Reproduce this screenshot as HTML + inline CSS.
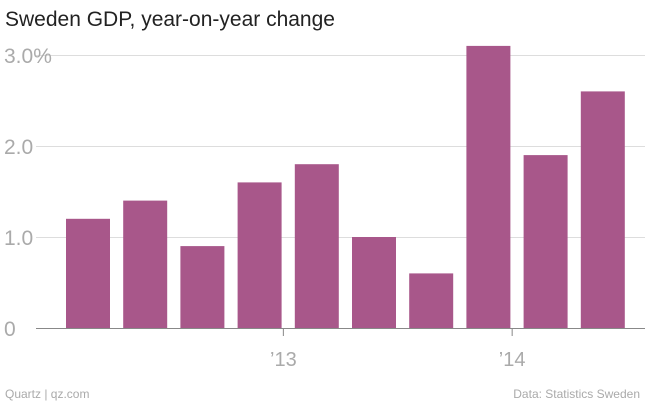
<!DOCTYPE html>
<html><head><meta charset="utf-8"><style>
body{margin:0;background:#fff;width:645px;height:403px;overflow:hidden;font-family:"Liberation Sans",sans-serif}
</style></head><body>
<svg width="645" height="403">
<text x="5" y="26" font-size="21" fill="#222">Sweden GDP, year-on-year change</text>
<g id="grid"></g>
<g id="bars"></g>
<line x1="36" y1="328.5" x2="645" y2="328.5" stroke="#888" stroke-width="1"/>
<g id="xlab"></g>
<text x="5" y="398" font-size="12" fill="#aaa">Quartz | qz.com</text>
<text x="640" y="398" font-size="12" fill="#aaa" text-anchor="end">Data: Statistics Sweden</text>
</svg>
<script>
const values=[1.2,1.4,0.9,1.6,1.8,1.0,0.6,3.1,1.9,2.6];
const yTicks=[0,1,2,3];
const yTickLabels=["0","1.0","2.0","3.0%"];
const xLabels=["’13","’14"];
const xLabelIdx=[3.8,7.8];
const NS="http://www.w3.org/2000/svg";
const y=v=>328-v*91;
const x=i=>66+i*57.2;
const g=document.getElementById('grid'),b=document.getElementById('bars'),xl=document.getElementById('xlab');
yTicks.forEach((t,i)=>{
 if(t>0){const l=document.createElementNS(NS,'line');
 l.setAttribute('x1',36);l.setAttribute('x2',645);l.setAttribute('y1',y(t)+0.5);l.setAttribute('y2',y(t)+0.5);
 l.setAttribute('stroke','#ddd');
 
 
 g.appendChild(l);}
 const tx=document.createElementNS(NS,'text');
 tx.setAttribute('x',4);tx.setAttribute('y',y(t)+8);tx.setAttribute('font-size','21');tx.setAttribute('fill','#aaa');
 tx.textContent=yTickLabels[i];
 
 
 g.appendChild(tx);
});
values.forEach((v,i)=>{
 const r=document.createElementNS(NS,'rect');
 r.setAttribute('x',x(i));r.setAttribute('width',44);r.setAttribute('y',y(v));r.setAttribute('height',328-y(v));
 r.setAttribute('fill','#a8578a');
 
 
 b.appendChild(r);
});
xLabels.forEach((s,i)=>{
 const cx=x(xLabelIdx[i]);
 const l=document.createElementNS(NS,'line');
 l.setAttribute('x1',cx);l.setAttribute('x2',cx);l.setAttribute('y1',329);l.setAttribute('y2',336);l.setAttribute('stroke','#888');
 
 
 xl.appendChild(l);
 const t=document.createElementNS(NS,'text');
 t.setAttribute('x',cx);t.setAttribute('y',366);t.setAttribute('font-size','20');t.setAttribute('fill','#aaa');t.setAttribute('text-anchor','middle');
 t.textContent=s;
 
 
 xl.appendChild(t);
});
</script>
</body></html>
